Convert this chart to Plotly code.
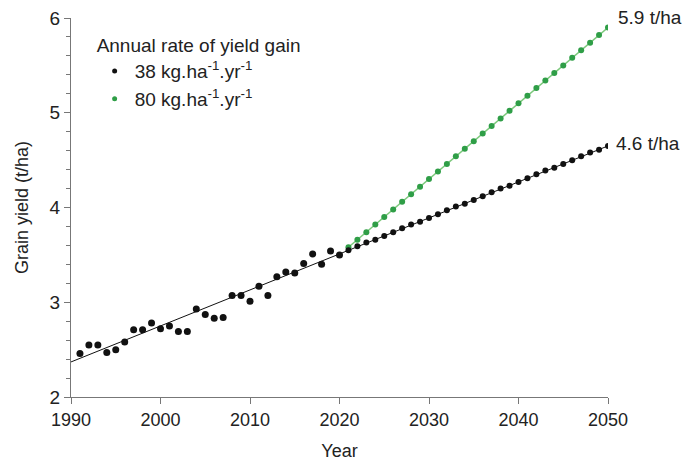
import plotly.graph_objects as go

# Observed yields 1991-2020
obs_years = list(range(1991, 2021))
obs_yield = [2.46, 2.55, 2.55, 2.47, 2.50, 2.58, 2.71, 2.71, 2.78, 2.72,
             2.75, 2.69, 2.69, 2.93, 2.87, 2.83, 2.84, 3.07, 3.07, 3.01,
             3.17, 3.07, 3.27, 3.32, 3.31, 3.41, 3.51, 3.40, 3.54, 3.50]

# Projections 2021-2050
proj_years = list(range(2021, 2051))
proj_38 = [3.55, 3.59, 3.63, 3.66, 3.70, 3.74, 3.78, 3.82, 3.85, 3.89,
           3.93, 3.97, 4.01, 4.04, 4.08, 4.12, 4.16, 4.20, 4.23, 4.27,
           4.31, 4.35, 4.39, 4.42, 4.46, 4.50, 4.54, 4.58, 4.61, 4.65]
proj_80 = [3.58, 3.66, 3.74, 3.82, 3.90, 3.98, 4.06, 4.14, 4.22, 4.30,
           4.38, 4.46, 4.54, 4.62, 4.70, 4.78, 4.86, 4.94, 5.02, 5.10,
           5.18, 5.26, 5.34, 5.42, 5.50, 5.58, 5.66, 5.74, 5.82, 5.90]

# Linear trend (38 kg/ha/yr)
trend_years = [1990, 2050]
trend_vals = [2.37, 4.65]

legend_labels = ["38 kg.ha<sup>-1</sup>.yr<sup>-1</sup>",
                 "80 kg.ha<sup>-1</sup>.yr<sup>-1</sup>"]
end_labels = ["4.6 t/ha", "5.9 t/ha"]

BLACK = "#111111"
GREEN = "#2f9e47"
GREEN_LINE = "#7cc97c"
FONT = "Liberation Sans, Arial, sans-serif"

fig = go.Figure()

fig.add_trace(go.Scatter(x=trend_years, y=trend_vals, mode="lines",
                         line=dict(color=BLACK, width=1), showlegend=False,
                         hoverinfo="skip"))
fig.add_trace(go.Scatter(x=proj_years, y=proj_80, mode="lines+markers",
                         line=dict(color=GREEN_LINE, width=1.5),
                         marker=dict(color=GREEN, size=6), showlegend=False))
fig.add_trace(go.Scatter(x=proj_years, y=proj_38, mode="markers",
                         marker=dict(color=BLACK, size=6), showlegend=False))
fig.add_trace(go.Scatter(x=obs_years, y=obs_yield, mode="markers",
                         marker=dict(color=BLACK, size=7), showlegend=False))

# legend entries
fig.add_trace(go.Scatter(x=[None], y=[None], mode="markers",
                         marker=dict(color=BLACK, size=5), name=legend_labels[0]))
fig.add_trace(go.Scatter(x=[None], y=[None], mode="markers",
                         marker=dict(color=GREEN, size=5), name=legend_labels[1]))

fig.add_annotation(x=2050, y=proj_38[-1], text=end_labels[0], xref="x", yref="y",
                   xanchor="left", yanchor="middle", xshift=6, yshift=2,
                   showarrow=False, font=dict(size=19, color="#222222", family=FONT))
fig.add_annotation(x=2050, y=proj_80[-1], text=end_labels[1], xref="x", yref="y",
                   xanchor="left", yanchor="middle", xshift=8, yshift=10,
                   showarrow=False, font=dict(size=19, color="#222222", family=FONT))

fig.update_layout(
    width=684, height=461,
    margin=dict(l=71, r=76, t=18, b=64),
    paper_bgcolor="white", plot_bgcolor="white",
    font=dict(family=FONT, color="#222222", size=17),
    legend=dict(x=0.044, y=0.975, xanchor="left", yanchor="top",
                bgcolor="rgba(0,0,0,0)", font=dict(size=19),
                title=dict(text="Annual rate of yield gain", font=dict(size=19)),
                tracegroupgap=0, itemsizing="trace"),
)

fig.update_xaxes(range=[1990, 2050], tickvals=[1990, 2000, 2010, 2020, 2030, 2040, 2050],
                 showline=True, linecolor="#777777", linewidth=1,
                 ticks="outside", ticklen=6, tickcolor="#777777",
                 showgrid=False, zeroline=False, automargin=False,
                 tickfont=dict(size=18),
                 title=dict(text="Year", font=dict(size=18), standoff=18))
fig.update_yaxes(range=[2, 6], tickvals=[2, 3, 4, 5, 6],
                 showline=True, linecolor="#777777", linewidth=1,
                 ticks="outside", ticklen=6, tickcolor="#777777",
                 minor=dict(dtick=0.2, ticks="outside", ticklen=4, tickcolor="#777777"),
                 showgrid=False, zeroline=False, automargin=False,
                 tickfont=dict(size=19),
                 title=dict(text="Grain yield (t/ha)", font=dict(size=18), standoff=16))

fig.write_html("out.html")
